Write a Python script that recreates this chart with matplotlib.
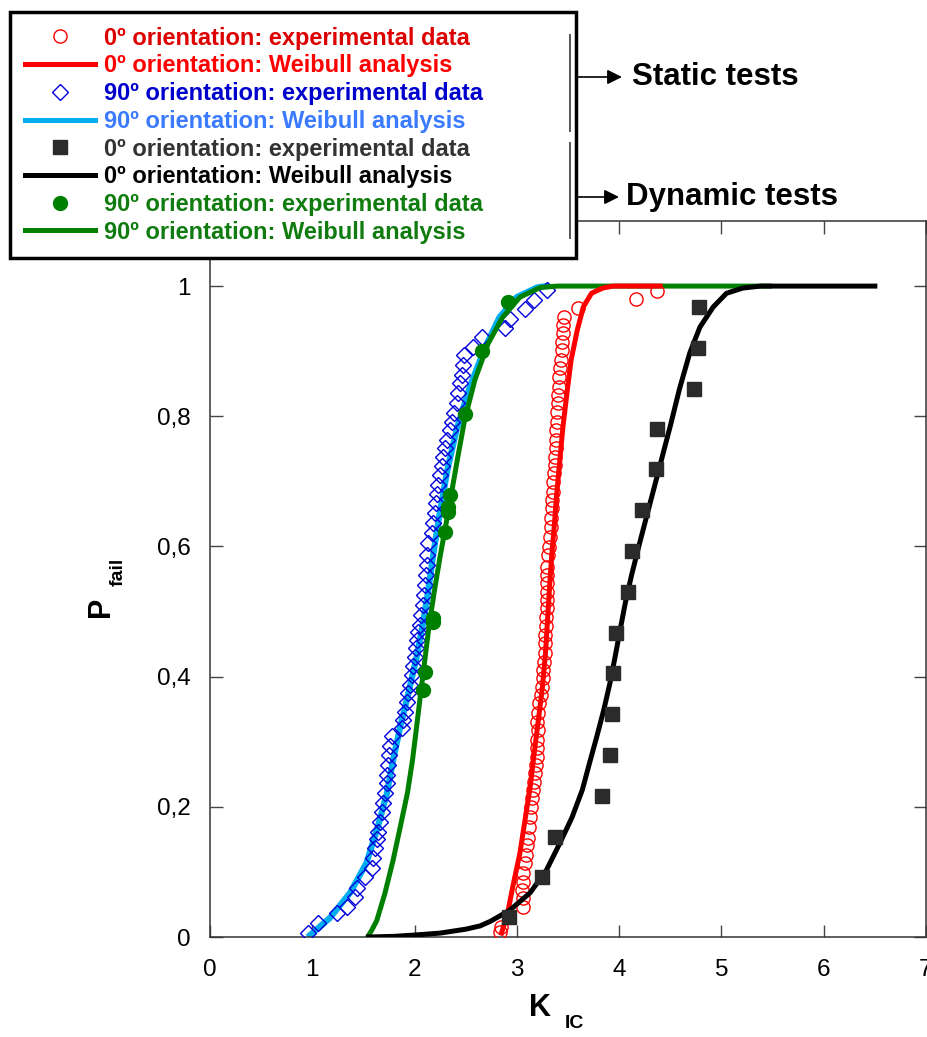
import numpy as np
import matplotlib.pyplot as plt
from matplotlib.lines import Line2D
from matplotlib.ticker import FuncFormatter

plt.rcParams['font.family'] = ['Liberation Sans', 'DejaVu Sans']

# Static tests, 0 deg orientation: experimental data
red_x = [2.835, 2.845, 3.060, 3.060, 3.050, 3.060, 3.060, 3.079, 3.089, 3.099,
         3.109, 3.118, 3.128, 3.138, 3.148, 3.157, 3.167, 3.177, 3.187, 3.196,
         3.196, 3.196, 3.206, 3.196, 3.206, 3.216, 3.236, 3.245, 3.255, 3.255,
         3.265, 3.275, 3.275, 3.275, 3.284, 3.284, 3.294, 3.294, 3.294, 3.294,
         3.294, 3.294, 3.304, 3.314, 3.324, 3.333, 3.333, 3.343, 3.343, 3.353,
         3.353, 3.363, 3.372, 3.372, 3.382, 3.382, 3.382, 3.392, 3.392, 3.402,
         3.402, 3.412, 3.412, 3.421, 3.431, 3.441, 3.441, 3.451, 3.451, 3.460,
         3.597, 4.164, 4.370]
red_y = [0.008, 0.015, 0.046, 0.060, 0.072, 0.084, 0.098, 0.114, 0.126, 0.141,
         0.152, 0.169, 0.184, 0.200, 0.214, 0.226, 0.238, 0.252, 0.264, 0.276,
         0.290, 0.303, 0.318, 0.330, 0.344, 0.359, 0.372, 0.384, 0.398, 0.410,
         0.422, 0.436, 0.452, 0.464, 0.478, 0.492, 0.505, 0.518, 0.530, 0.544,
         0.556, 0.568, 0.587, 0.599, 0.614, 0.630, 0.644, 0.659, 0.671, 0.684,
         0.699, 0.713, 0.725, 0.737, 0.751, 0.763, 0.779, 0.791, 0.806, 0.820,
         0.833, 0.845, 0.860, 0.874, 0.886, 0.902, 0.914, 0.928, 0.940, 0.952,
         0.966, 0.980, 0.992]

# Static tests, 0 deg orientation: Weibull analysis
red_fit_x = [2.85, 2.91, 2.96, 3.03, 3.08, 3.13, 3.17, 3.21, 3.25, 3.28, 3.30,
             3.32, 3.34, 3.365, 3.39, 3.42, 3.45, 3.49, 3.53, 3.59, 3.65, 3.73,
             3.84, 3.94, 4.40]
red_fit_y = [0.006, 0.037, 0.077, 0.129, 0.180, 0.230, 0.283, 0.333, 0.384, 0.436,
             0.487, 0.538, 0.585, 0.630, 0.682, 0.733, 0.783, 0.836, 0.886, 0.932,
             0.968, 0.989, 0.997, 1.0, 1.0]

# Static tests, 90 deg orientation: experimental data
blue_x = [0.958, 1.056, 1.241, 1.339, 1.417, 1.437, 1.515, 1.584, 1.593, 1.613,
          1.632, 1.642, 1.662, 1.681, 1.691, 1.711, 1.730, 1.730, 1.740, 1.750,
          1.760, 1.779, 1.877, 1.887, 1.906, 1.926, 1.935, 1.955, 1.975, 1.984,
          2.004, 2.014, 2.023, 2.033, 2.053, 2.063, 2.082, 2.092, 2.102, 2.111,
          2.121, 2.121, 2.131, 2.170, 2.180, 2.199, 2.209, 2.219, 2.229, 2.248,
          2.268, 2.278, 2.297, 2.317, 2.346, 2.366, 2.385, 2.414, 2.424, 2.444,
          2.463, 2.473, 2.483, 2.571, 2.659, 2.884, 2.933, 3.079, 3.167, 3.294]
blue_y = [0.006, 0.022, 0.037, 0.046, 0.061, 0.075, 0.092, 0.106, 0.121, 0.137,
          0.151, 0.161, 0.177, 0.192, 0.206, 0.221, 0.237, 0.249, 0.264, 0.280,
          0.293, 0.309, 0.321, 0.333, 0.346, 0.361, 0.375, 0.387, 0.402, 0.416,
          0.430, 0.444, 0.456, 0.469, 0.479, 0.495, 0.510, 0.525, 0.541, 0.556,
          0.571, 0.587, 0.605, 0.621, 0.636, 0.651, 0.667, 0.680, 0.694, 0.710,
          0.724, 0.737, 0.751, 0.763, 0.779, 0.791, 0.805, 0.820, 0.836, 0.851,
          0.863, 0.879, 0.894, 0.906, 0.922, 0.935, 0.949, 0.965, 0.978, 0.994]

# Static tests, 90 deg orientation: Weibull analysis
blue_fit_x = [0.98, 1.17, 1.37, 1.53, 1.64, 1.73, 1.79, 1.86, 1.94, 2.02, 2.08,
              2.13, 2.18, 2.24, 2.32, 2.41, 2.54, 2.69, 2.83, 3.00, 3.20, 3.29]
blue_fit_y = [0.003, 0.029, 0.068, 0.114, 0.169, 0.221, 0.272, 0.323, 0.375, 0.43,
              0.48, 0.528, 0.585, 0.645, 0.717, 0.779, 0.845, 0.906, 0.952, 0.983,
              0.998, 1.0]

# Dynamic tests, 0 deg orientation: experimental data
black_x = [2.92, 3.25, 3.37, 3.83, 3.91, 3.93, 3.94, 3.97, 4.09, 4.13, 4.22,
           4.36, 4.37, 4.73, 4.77, 4.78]
black_y = [0.031, 0.092, 0.154, 0.217, 0.280, 0.343, 0.406, 0.467, 0.530, 0.593,
           0.656, 0.719, 0.780, 0.842, 0.905, 0.968]

# Dynamic tests, 0 deg orientation: Weibull analysis
black_fit_x = [1.55, 1.8, 2.0, 2.25, 2.5, 2.64, 2.74, 2.93, 3.13, 3.29, 3.42, 3.54,
               3.64, 3.71, 3.78, 3.85, 3.91, 3.96, 4.01, 4.06, 4.12, 4.20, 4.30,
               4.40, 4.50, 4.59, 4.69, 4.79, 4.92, 5.05, 5.21, 5.38, 6.5]
black_fit_y = [0.0, 0.001, 0.003, 0.006, 0.012, 0.017, 0.024, 0.041, 0.068, 0.103,
               0.144, 0.184, 0.226, 0.267, 0.307, 0.349, 0.390, 0.430, 0.472, 0.513,
               0.555, 0.605, 0.665, 0.725, 0.785, 0.842, 0.897, 0.937, 0.968, 0.989,
               0.997, 1.0, 1.0]

# Dynamic tests, 90 deg orientation: experimental data
green_x = [2.082, 2.102, 2.180, 2.180, 2.297, 2.326, 2.326, 2.346, 2.493, 2.659, 2.913]
green_y = [0.379, 0.407, 0.484, 0.490, 0.622, 0.653, 0.661, 0.679, 0.803, 0.900, 0.975]

# Dynamic tests, 90 deg orientation: Weibull analysis
green_fit_x = [1.54, 1.58, 1.63, 1.71, 1.79, 1.86, 1.93, 1.98, 2.02, 2.06, 2.10,
               2.14, 2.19, 2.25, 2.30, 2.35, 2.42, 2.49, 2.59, 2.72, 2.86, 3.03,
               3.23, 3.40, 5.47]
green_fit_y = [0.0, 0.01, 0.025, 0.067, 0.118, 0.169, 0.221, 0.272, 0.323, 0.375,
               0.425, 0.476, 0.528, 0.585, 0.628, 0.672, 0.735, 0.795, 0.856, 0.912,
               0.952, 0.983, 0.998, 1.0, 1.0]

labels = ['0º orientation: experimental data',
          '0º orientation: Weibull analysis',
          '90º orientation: experimental data',
          '90º orientation: Weibull analysis',
          '0º orientation: experimental data',
          '0º orientation: Weibull analysis',
          '90º orientation: experimental data',
          '90º orientation: Weibull analysis']
label_colors = ['#dd0000', '#ff0000', '#0000cc', '#3a7bff',
                '#333333', '#000000', '#107c10', '#107c10']

W, H = 927, 1037


def fx(px):
    return px / W


def fy(py):
    return 1 - py / H


fig = plt.figure(figsize=(W / 100, H / 100), dpi=100)
ax = fig.add_axes([fx(210), fy(937), (926 - 210) / W, (937 - 221) / H])

ax.plot(blue_fit_x, blue_fit_y, color='#00aeef', lw=4.5, zorder=2)
ax.plot(blue_x, blue_y, 'D', ms=8, mfc='none', mec='#0000dd', mew=1, zorder=3)
ax.plot(green_fit_x, green_fit_y, color='#008000', lw=3.6, zorder=4)
ax.plot(green_x, green_y, 'o', ms=10, color='#008000', zorder=5)
ax.plot(red_x, red_y, 'o', ms=9.5, mfc='none', mec='#ff0000', mew=1, zorder=6)
ax.plot(red_fit_x, red_fit_y, color='#ff0000', lw=3.6, zorder=7)
ax.plot(black_fit_x, black_fit_y, color='black', lw=3.6, zorder=8)
ax.plot(black_x, black_y, 's', ms=10.5, color='#2b2b2b', zorder=9)

ax.set_xlim(0, 7)
ax.set_ylim(0, 1.1)
ax.set_xticks(range(8))
ax.set_yticks([0, 0.2, 0.4, 0.6, 0.8, 1.0])
ax.yaxis.set_major_formatter(FuncFormatter(
    lambda v, p: '0' if v == 0 else ('1' if v == 1 else ('%.1f' % v).replace('.', ','))))
ax.tick_params(direction='in', length=9, width=1, top=True, right=True,
               labelsize=17.5, colors='#444444', labelcolor='black')
ax.tick_params(axis='x', pad=16)
ax.tick_params(axis='y', pad=14)
for s in ax.spines.values():
    s.set_color('#333333')
    s.set_linewidth(1.1)

# axis labels with detached subscripts
fig.text(fx(540), fy(1008), 'K', fontsize=22, weight='bold', ha='center', va='center')
fig.text(fx(574), fy(1024), 'IC', fontsize=14, weight='bold', ha='center', va='center')
fig.text(fx(101), fy(607), 'P', fontsize=22, weight='bold', rotation=90,
         ha='center', va='center')
fig.text(fx(118), fy(572), 'fail', fontsize=14, weight='bold', rotation=90,
         ha='center', va='center')

handles = [
    Line2D([], [], ls='none', marker='o', ms=9.5, mfc='none', mec='#ff0000'),
    Line2D([], [], color='#ff0000', lw=3.6),
    Line2D([], [], ls='none', marker='D', ms=8, mfc='none', mec='#0000dd'),
    Line2D([], [], color='#00aeef', lw=3.6),
    Line2D([], [], ls='none', marker='s', ms=10, color='#2b2b2b'),
    Line2D([], [], color='black', lw=3.6),
    Line2D([], [], ls='none', marker='o', ms=10, color='#008000'),
    Line2D([], [], color='#008000', lw=3.6),
]
leg = fig.legend(handles, labels, loc='upper left',
                 bbox_to_anchor=(fx(10), fy(257), (576 - 10) / W, (257 - 12) / H),
                 mode='expand', borderaxespad=0, fancybox=False, framealpha=1,
                 edgecolor='black', prop={'weight': 'bold', 'size': 17},
                 handlelength=3.0, handletextpad=0.35, borderpad=0.62,
                 labelspacing=0.2, numpoints=1)
leg.get_frame().set_linewidth(2.5)
for t, c in zip(leg.get_texts(), label_colors):
    t.set_color(c)

# brackets grouping the legend rows
for y0, y1 in [(35, 131), (143, 238)]:
    fig.add_artist(Line2D([fx(570), fx(570)], [fy(y0), fy(y1)], color='#555555',
                          lw=1.4, zorder=10))
for yy, x_end, txt, x_txt in [(77, 622, 'Static tests', 632), (197, 619, 'Dynamic tests', 626)]:
    fig.add_artist(plt.Annotation('', xy=(fx(x_end), fy(yy)), xytext=(fx(570), fy(yy)),
                                  xycoords='figure fraction', textcoords='figure fraction',
                                  arrowprops=dict(arrowstyle='-|>', color='black', lw=1.2,
                                                  mutation_scale=22, shrinkA=0, shrinkB=0)))
    fig.text(fx(x_txt), fy(yy), txt, fontsize=22.5, weight='bold', ha='left', va='center')

fig.savefig('out.png', dpi=100)
